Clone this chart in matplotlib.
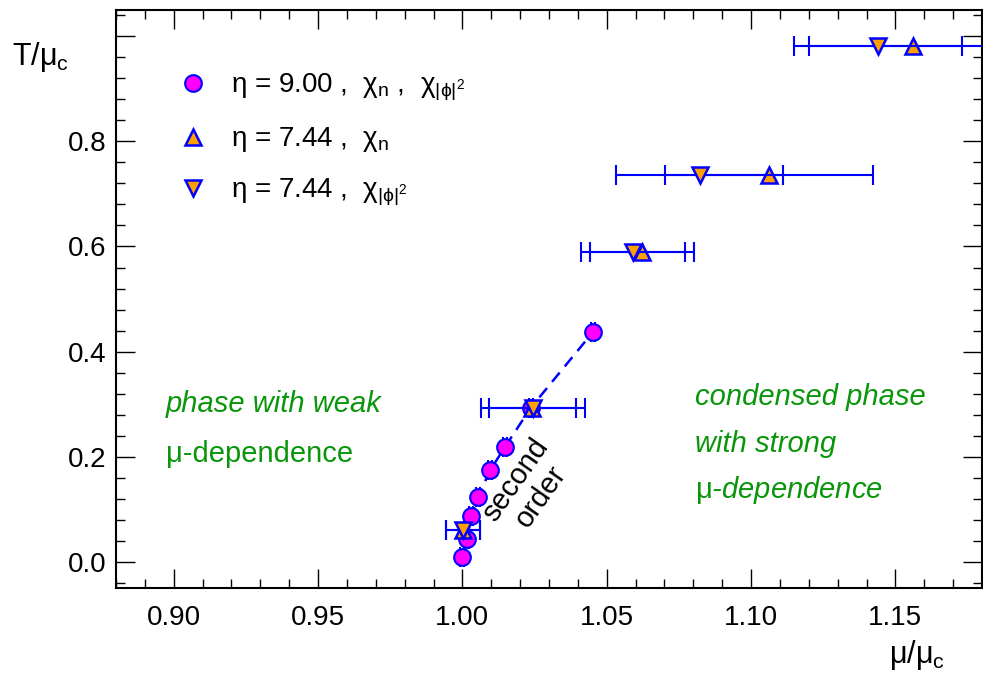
import matplotlib
matplotlib.use("Agg")
import matplotlib.pyplot as plt
from matplotlib.ticker import MultipleLocator, FuncFormatter

plt.rcParams['font.family'] = ['Liberation Sans', 'DejaVu Sans']
plt.rcParams['mathtext.fontset'] = 'custom'
plt.rcParams['mathtext.rm'] = 'Liberation Sans'
plt.rcParams['mathtext.it'] = 'Liberation Sans:italic'
plt.rcParams['mathtext.sf'] = 'Liberation Sans'

# eta = 9.00, chi_n and chi_|phi|^2 (same points)
mu_9 = [1.000, 1.0016, 1.003, 1.0055, 1.0096, 1.0147, 1.0237, 1.0452]
t_9 = [0.008, 0.043, 0.086, 0.124, 0.174, 0.218, 0.293, 0.437]
err_9 = [0.0007] * 8

# eta = 7.44, chi_n
mu_n = [1.0002, 1.0242, 1.0622, 1.1062, 1.156]
t_n = [0.060, 0.293, 0.590, 0.736, 0.981]
err_n = [0.006, 0.015, 0.018, 0.036, 0.036]

# eta = 7.44, chi_|phi|^2
mu_p = [1.0002, 1.0243, 1.059, 1.0822, 1.1439]
t_p = [0.060, 0.293, 0.590, 0.736, 0.981]
err_p = [0.006, 0.018, 0.018, 0.029, 0.029]

lab_9 = r'η = 9.00 ,  χ$_\mathrm{n}$ ,  χ$_{\mathrm{|ϕ|}^2}$'
lab_n = r'η = 7.44 ,  χ$_\mathrm{n}$'
lab_p = r'η = 7.44 ,  χ$_{\mathrm{|ϕ|}^2}$'

blue = '#0000ff'
orange = '#ffa000'
green = '#0a960a'

fig = plt.figure(figsize=(9.83, 6.75), dpi=100)
ax = fig.add_axes([0.118, 0.129, 0.881, 0.856])

# dashed line through the eta=9 points
ax.plot(mu_9, t_9, color=blue, lw=1.8, dashes=(4.8, 3.2), zorder=1)

eb = dict(fmt='none', ecolor=blue, elinewidth=1.5, capsize=7, capthick=1.5)
ax.errorbar(mu_9, t_9, xerr=err_9, zorder=2, **eb)
ax.plot(mu_9, t_9, 'o', ms=12, mfc='#ff00ff', mec=blue, mew=1.5,
        ls='none', zorder=3, label=lab_9)
ax.errorbar(mu_n, t_n, xerr=err_n, zorder=4, **eb)
ax.plot(mu_n, t_n, '^', ms=11, mfc=orange, mec=blue, mew=1.8,
        ls='none', zorder=5, label=lab_n)
ax.errorbar(mu_p, t_p, xerr=err_p, zorder=6, **eb)
ax.plot(mu_p, t_p, 'v', ms=11, mfc=orange, mec=blue, mew=1.8,
        ls='none', zorder=7, label=lab_p)

ax.set_xlim(0.880, 1.180)
ax.set_ylim(-0.05, 1.05)
ax.xaxis.set_major_locator(MultipleLocator(0.05))
ax.xaxis.set_minor_locator(MultipleLocator(0.01))
ax.yaxis.set_major_locator(MultipleLocator(0.2))
ax.yaxis.set_minor_locator(MultipleLocator(0.04))
ax.xaxis.set_major_formatter(FuncFormatter(lambda v, p: '%.2f' % v))
ax.yaxis.set_major_formatter(FuncFormatter(lambda v, p: '' if v > 0.95 else '%.1f' % v))
ax.tick_params(which='both', direction='in', top=True, right=True, width=1)
ax.tick_params(which='major', length=13.5, labelsize=20)
ax.tick_params(which='minor', length=6.8)
ax.tick_params(axis='x', pad=12)
ax.tick_params(axis='y', pad=7)
for s in ax.spines.values():
    s.set_linewidth(1.5)

leg = ax.legend(loc='upper left', bbox_to_anchor=(0.073, 0.893), frameon=False,
                fontsize=20, handlelength=1.0, handletextpad=0.85,
                labelspacing=0.8, borderpad=0, borderaxespad=0)

# region labels
ax.text(0.8972, 0.284, 'phase with weak', color=green, fontsize=21, style='italic')
ax.text(0.8972, 0.190, 'μ-dependence', color=green, fontsize=21)
ax.text(1.0807, 0.299, 'condensed phase', color=green, fontsize=21, style='italic')
ax.text(1.0807, 0.2095, 'with strong', color=green, fontsize=21, style='italic')
ax.text(1.0807, 0.122, r'$\mathrm{μ}$-dependence', color=green, fontsize=21, style='italic')
ax.text(1.0228, 0.140, 'second\norder', fontsize=21, rotation=55,
        ha='center', va='center', rotation_mode='anchor', multialignment='center',
        linespacing=1.1)

fig.text(12 / 983, 1 - 57 / 675, r'T/μ$_\mathrm{c}$', fontsize=22, va='center')
fig.text(945 / 983, 1 - 655 / 675, r'μ/μ$_\mathrm{c}$', fontsize=22, va='center', ha='right')

fig.savefig('out.png', dpi=100)
